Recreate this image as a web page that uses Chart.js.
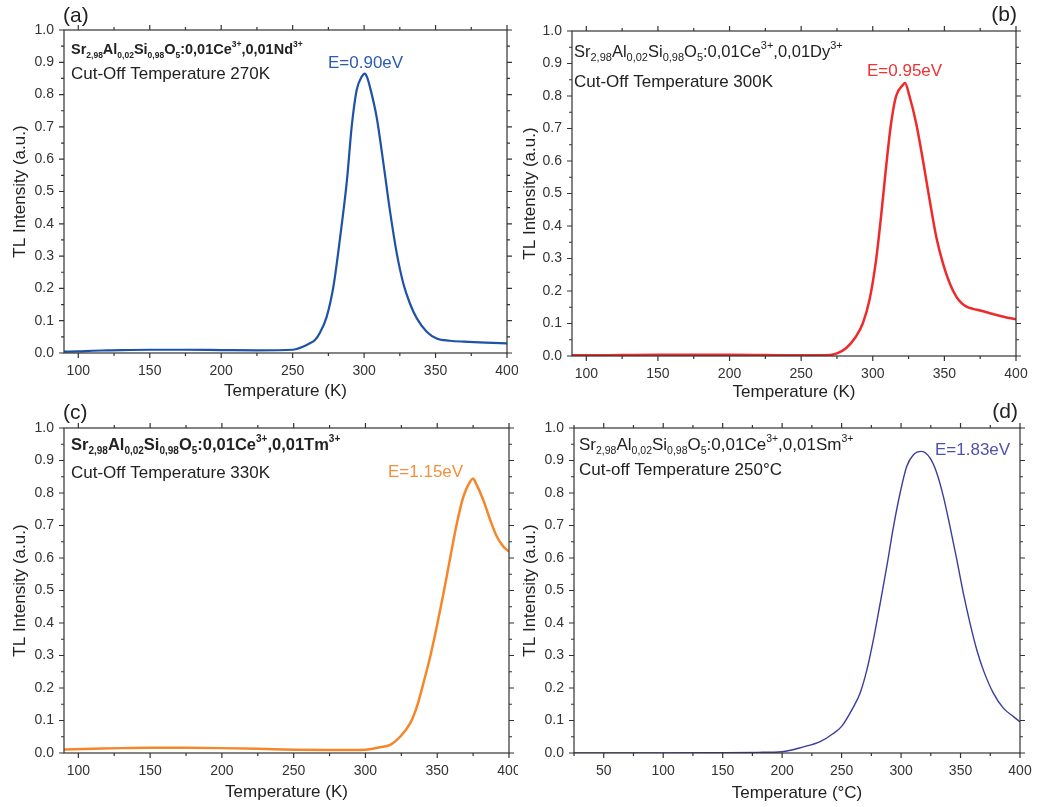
<!DOCTYPE html>
<html>
<head>
<meta charset="utf-8">
<script src="https://cdn.jsdelivr.net/npm/chart.js@4.4.0/dist/chart.umd.min.js"></script>
<style>
  body { margin: 0; background: #fff; }
  .panel { position: absolute; }
</style>
</head>
<body>
<div class="panel" style="left:0;top:0;width:518px;height:400px"><canvas id="chartA"></canvas></div>
<div class="panel" style="left:518px;top:0;width:519px;height:400px"><canvas id="chartB"></canvas></div>
<div class="panel" style="left:0;top:400px;width:518px;height:407px"><canvas id="chartC"></canvas></div>
<div class="panel" style="left:518px;top:400px;width:519px;height:407px"><canvas id="chartD"></canvas></div>
<script>
// (a) Nd co-doped, temperature in K
const tempA = [90, 100, 110, 120, 130, 150, 175, 200, 225, 250, 257.5, 262, 265.6, 269, 273.8, 278.5, 283, 288, 291.3, 294.8, 298.3, 300.5, 302, 304, 308.8, 313.5, 318, 322.8, 327.4, 332, 336.8, 343.8, 350.8, 360, 370, 385, 400];
const tlA = [0.004, 0.005, 0.007, 0.008, 0.009, 0.010, 0.010, 0.009, 0.008, 0.010, 0.020, 0.030, 0.040, 0.062, 0.112, 0.205, 0.350, 0.535, 0.700, 0.814, 0.855, 0.865, 0.855, 0.825, 0.730, 0.588, 0.443, 0.310, 0.216, 0.154, 0.108, 0.066, 0.045, 0.038, 0.035, 0.032, 0.030];

// (b) Dy co-doped
const tempB = [90, 100, 125, 150, 175, 200, 225, 250, 270, 275, 281.3, 288.3, 293, 297.7, 302.3, 305.8, 309.3, 312.8, 316.3, 321, 322.5, 325.6, 330.3, 335, 339.7, 344.3, 349, 353.7, 358.4, 362, 365.4, 370, 375, 384, 392, 400];
const tlB = [0.002, 0.002, 0.003, 0.004, 0.004, 0.004, 0.003, 0.002, 0.003, 0.008, 0.024, 0.060, 0.100, 0.172, 0.295, 0.430, 0.582, 0.716, 0.800, 0.834, 0.840, 0.800, 0.716, 0.603, 0.480, 0.367, 0.285, 0.224, 0.182, 0.163, 0.152, 0.145, 0.140, 0.129, 0.120, 0.113];

// (c) Tm co-doped
const tempC = [90, 110, 130, 150, 175, 200, 225, 250, 275, 300, 310.2, 317.2, 324.1, 331.1, 335.8, 340.4, 345.1, 349.7, 354.3, 359, 363.7, 368.3, 373, 375, 376.4, 382.2, 386.9, 391.5, 396.1, 400];
const tlC = [0.011, 0.013, 0.015, 0.016, 0.016, 0.015, 0.013, 0.010, 0.009, 0.010, 0.018, 0.025, 0.050, 0.091, 0.142, 0.215, 0.296, 0.389, 0.490, 0.600, 0.707, 0.790, 0.836, 0.845, 0.835, 0.777, 0.717, 0.666, 0.635, 0.620];

// (d) Sm co-doped, temperature in degC
const tempD = [25, 50, 100, 150, 180, 200, 218, 232, 243, 250, 260, 265.5, 271.2, 276.7, 282.4, 288, 293.6, 299.2, 304.8, 310.4, 317.4, 324.4, 330.1, 335.6, 341.2, 346.9, 352.4, 358, 363.7, 369.2, 377.6, 386, 394.5, 400];
const tlD = [0.000, 0.000, 0.000, 0.001, 0.002, 0.004, 0.019, 0.035, 0.060, 0.082, 0.142, 0.184, 0.255, 0.348, 0.460, 0.574, 0.696, 0.800, 0.882, 0.918, 0.928, 0.907, 0.861, 0.789, 0.696, 0.594, 0.491, 0.399, 0.317, 0.255, 0.184, 0.138, 0.112, 0.096];

const xTicksK = [100, 150, 200, 250, 300, 350, 400];
const xTicksC = [50, 100, 150, 200, 250, 300, 350, 400];
const yTicks = [0, 0.1, 0.2, 0.3, 0.4, 0.5, 0.6, 0.7, 0.8, 0.9, 1.0];

const FONT = '"Liberation Sans", Arial, Helvetica, sans-serif';
Chart.defaults.font.family = FONT;

function formula(ion) {
  return [
    { t: 'Sr' }, { t: '2,98', sub: true }, { t: 'Al' }, { t: '0,02', sub: true },
    { t: 'Si' }, { t: '0,98', sub: true }, { t: 'O' }, { t: '5', sub: true },
    { t: ':0,01Ce' }, { t: '3+', sup: true }, { t: ',0,01' + ion }, { t: '3+', sup: true }
  ];
}

function drawRich(ctx, parts, x, y, size, small, bold) {
  const w = bold ? 'bold ' : '';
  ctx.textBaseline = 'alphabetic';
  ctx.textAlign = 'left';
  parts.forEach(p => {
    let fs = size, dy = 0;
    if (p.sub) { fs = small; dy = size * 0.25; }
    if (p.sup) { fs = small; dy = -size * 0.48; }
    ctx.font = w + fs + 'px ' + FONT;
    ctx.fillText(p.t, x, y + dy);
    x += ctx.measureText(p.t).width;
  });
}

// frame, ticks on all four sides and the text labels
const framePlugin = {
  id: 'frame',
  afterDraw(chart, args, o) {
    const ctx = chart.ctx;
    const { left, right, top, bottom } = chart.chartArea;
    const xs = chart.scales.x, ys = chart.scales.y;
    ctx.save();
    ctx.strokeStyle = '#333';
    ctx.lineWidth = 1.2;
    ctx.strokeRect(left, top, right - left, bottom - top);
    ctx.beginPath();
    for (let v = o.xStart; v <= xs.max + 1e-6; v += 25) {
      const px = xs.getPixelForValue(v);
      const len = v % 50 === 0 ? 5 : 3;
      ctx.moveTo(px, bottom); ctx.lineTo(px, bottom + len);
      ctx.moveTo(px, top); ctx.lineTo(px, top - len);
    }
    for (let i = 0; i <= 20; i++) {
      const py = ys.getPixelForValue(i * 0.05);
      const len = i % 2 === 0 ? 5 : 3;
      ctx.moveTo(left, py); ctx.lineTo(left - len, py);
      ctx.moveTo(right, py); ctx.lineTo(right + len, py);
    }
    ctx.stroke();

    ctx.fillStyle = '#222';
    ctx.font = '21px ' + FONT;
    ctx.textBaseline = 'middle';
    ctx.textAlign = o.tagAlign;
    ctx.fillText(o.tag, o.tagX, o.tagY);

    ctx.fillStyle = '#222';
    drawRich(ctx, formula(o.ion), o.fX, o.fY, o.fSize, o.fSmall, o.bold);

    ctx.font = '17px ' + FONT;
    ctx.textBaseline = 'middle';
    ctx.textAlign = 'left';
    ctx.fillText(o.cut, o.fX, o.cY);

    ctx.fillStyle = o.eColor;
    ctx.fillText(o.eText, o.eX, o.eY);
    ctx.restore();
  }
};

function makePanel(id, p) {
  new Chart(document.getElementById(id), {
    type: 'line',
    data: {
      datasets: [{
        data: p.temps.map((t, i) => ({ x: t, y: p.vals[i] })),
        borderColor: p.color,
        borderWidth: p.lw,
        pointRadius: 0,
        fill: false,
        cubicInterpolationMode: 'monotone'
      }]
    },
    options: {
      responsive: true,
      maintainAspectRatio: false,
      animation: false,
      layout: { padding: { left: 0, right: p.padR, top: p.padT, bottom: 0 } },
      plugins: { legend: { display: false }, tooltip: { enabled: false }, frame: p.deco },
      scales: {
        x: {
          type: 'linear',
          min: p.xMin,
          max: 400,
          afterBuildTicks: s => { s.ticks = p.xTicks.map(v => ({ value: v })); },
          afterFit: s => { s.height = p.xH; s.paddingLeft = 0; s.paddingRight = 0; },
          ticks: { font: { size: 14 }, color: '#333', padding: 10, maxRotation: 0, autoSkip: false },
          grid: { display: false, drawTicks: false },
          border: { display: false },
          title: { display: true, text: p.xTitle, font: { size: 17 }, color: '#222', padding: { top: 0, bottom: p.xTitlePad } }
        },
        y: {
          min: 0,
          max: 1,
          afterBuildTicks: s => { s.ticks = yTicks.map(v => ({ value: v })); },
          afterFit: s => { s.width = p.yW; s.paddingTop = 0; s.paddingBottom = 0; },
          ticks: { font: { size: 14 }, color: '#333', padding: 10, callback: v => v.toFixed(1) },
          grid: { display: false, drawTicks: false },
          border: { display: false },
          title: { display: true, text: 'TL Intensity (a.u.)', font: { size: 17 }, color: '#222', padding: { top: p.yTitlePad, bottom: 0 } }
        }
      }
    },
    plugins: [framePlugin]
  });
}

makePanel('chartA', {
  temps: tempA, vals: tlA, color: '#1d52a6', lw: 2.2, xMin: 90, xTicks: xTicksK,
  padR: 11, padT: 30, xH: 47, yW: 64, xTitle: 'Temperature (K)', xTitlePad: -2, yTitlePad: 10,
  deco: { xStart: 100, tag: '(a)', tagAlign: 'left', tagX: 63, tagY: 16, ion: 'Nd', bold: true,
    fX: 71, fY: 54, fSize: 14.5, fSmall: 8.5, cut: 'Cut-Off Temperature 270K', cY: 74,
    eText: 'E=0.90eV', eColor: '#2a5db0', eX: 328, eY: 63 }
});

makePanel('chartB', {
  temps: tempB, vals: tlB, color: '#ee2a2a', lw: 2.5, xMin: 90, xTicks: xTicksK,
  padR: 21, padT: 31, xH: 44, yW: 54, xTitle: 'Temperature (K)', xTitlePad: -3, yTitlePad: 2,
  deco: { xStart: 100, tag: '(b)', tagAlign: 'right', tagX: 499, tagY: 15, ion: 'Dy', bold: false,
    fX: 56, fY: 57, fSize: 16.5, fSmall: 11, cut: 'Cut-Off Temperature 300K', cY: 82,
    eText: 'E=0.95eV', eColor: '#ee3333', eX: 349, eY: 71 }
});

makePanel('chartC', {
  temps: tempC, vals: tlC, color: '#f5872a', lw: 2.5, xMin: 90, xTicks: xTicksK,
  padR: 9, padT: 28, xH: 54, yW: 64, xTitle: 'Temperature (K)', xTitlePad: 4, yTitlePad: 10,
  deco: { xStart: 100, tag: '(c)', tagAlign: 'left', tagX: 63, tagY: 13, ion: 'Tm', bold: true,
    fX: 71, fY: 50, fSize: 16.5, fSmall: 10, cut: 'Cut-Off Temperature 330K', cY: 73,
    eText: 'E=1.15eV', eColor: '#f39040', eX: 388, eY: 72 }
});

makePanel('chartD', {
  temps: tempD, vals: tlD, color: '#3c3c9e', lw: 1.4, xMin: 25, xTicks: xTicksC,
  padR: 17, padT: 28, xH: 54, yW: 56, xTitle: 'Temperature (\u00B0C)', xTitlePad: 3, yTitlePad: 2,
  deco: { xStart: 25, tag: '(d)', tagAlign: 'right', tagX: 500, tagY: 12, ion: 'Sm', bold: false,
    fX: 61, fY: 50, fSize: 17, fSmall: 10.5, cut: 'Cut-off Temperature 250\u00B0C', cY: 70,
    eText: 'E=1.83eV', eColor: '#5050b0', eX: 417, eY: 50 }
});
</script>
</body>
</html>
